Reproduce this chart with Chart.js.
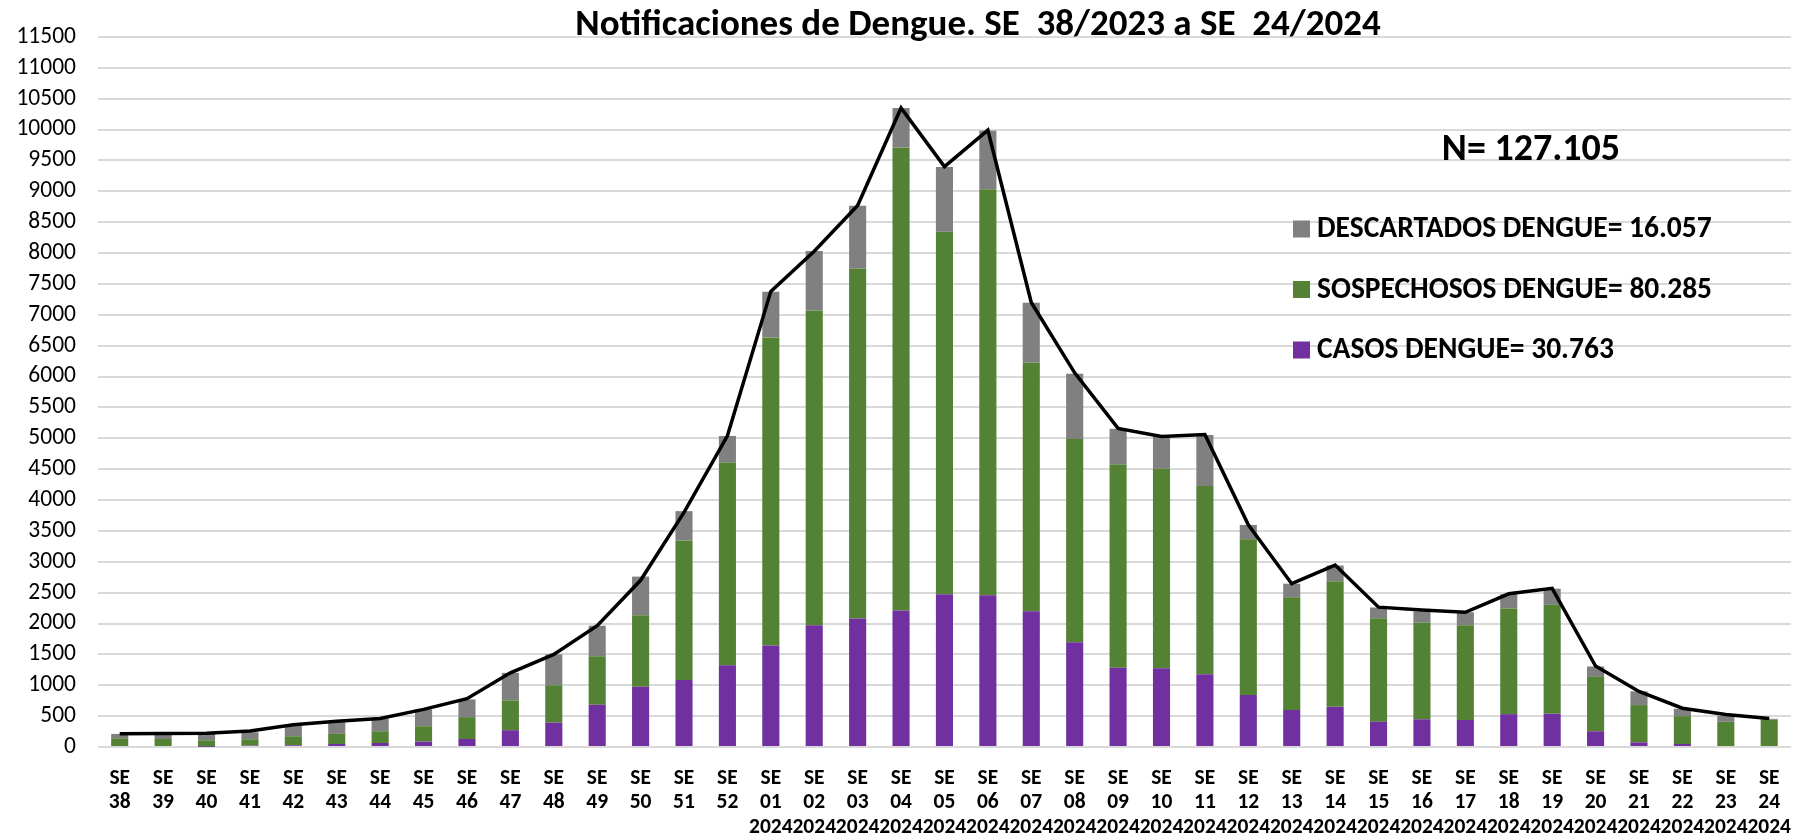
<!DOCTYPE html>
<html>
<head>
<meta charset="utf-8">
<script src="https://cdn.jsdelivr.net/npm/chart.js@4.4.1/dist/chart.umd.min.js"></script>
<style>
  html, body { margin: 0; padding: 0; background: #fff; }
  canvas { display: block; }
</style>
</head>
<body>
<canvas id="chart" width="1810" height="836"></canvas>
<script>
// semanas epidemiologicas
const weeks = ['38', '39', '40', '41', '42', '43', '44', '45', '46', '47', '48', '49', '50', '51', '52',
  '01', '02', '03', '04', '05', '06', '07', '08', '09', '10', '11', '12',
  '13', '14', '15', '16', '17', '18', '19', '20', '21', '22', '23', '24']
const years = ['', '', '', '', '', '', '', '', '', '', '', '', '', '', '',
  '2024', '2024', '2024', '2024', '2024', '2024', '2024', '2024', '2024', '2024', '2024', '2024',
  '2024', '2024', '2024', '2024', '2024', '2024', '2024', '2024', '2024', '2024', '2024', '2024']

const casos = [0, 0, 5, 22, 27, 49, 65, 87, 130, 272, 395, 685, 975, 1085, 1325,
  1643, 1972, 2080, 2209, 2473, 2457, 2198, 1697, 1282, 1277, 1180, 842,
  600, 650, 410, 449, 437, 532, 537, 255, 76, 49, 16, 0]
const sospechosos = [141, 130, 104, 103, 147, 163, 190, 250, 354, 483, 605, 785, 1160, 2260, 3282,
  4991, 5099, 5672, 7503, 5873, 6575, 4031, 3292, 3292, 3233, 3046, 2522,
  1825, 2035, 1677, 1567, 1534, 1711, 1766, 881, 603, 451, 392, 446]
const descartados = [71, 77, 103, 114, 174, 190, 202, 272, 288, 446, 500, 495, 625, 475, 431,
  740, 961, 1015, 637, 1047, 950, 966, 1056, 580, 520, 828, 233,
  220, 255, 172, 182, 211, 232, 261, 168, 223, 120, 97, 11]
const notificaciones = [215, 218, 222, 258, 359, 418, 462, 609, 783, 1201, 1500, 1965, 2700, 3800, 5040,
  7380, 8030, 8770, 10350, 9400, 9990, 7200, 6060, 5160, 5030, 5060, 3600,
  2645, 2946, 2265, 2220, 2182, 2481, 2570, 1312, 900, 628, 527, 462]

const legendLabels = ['DESCARTADOS DENGUE= 16.057', 'SOSPECHOSOS DENGUE= 80.285', 'CASOS DENGUE= 30.763']
const totalLabel = 'N= 127.105'
const title = 'Notificaciones de Dengue. SE  38/2023 a SE  24/2024'

const FONT = 'Carlito, Calibri, Lato, sans-serif'
const PURPLE = '#7030a0'
const GREEN = '#548235'
const GRAY = '#808080'

const labels = weeks.map((w, i) => years[i] ? ['SE', w, years[i]] : ['SE', w])

const overlay = {
  id: 'overlay',
  afterDraw(chart) {
    const ctx = chart.ctx
    ctx.save()
    ctx.fillStyle = '#000'
    ctx.textAlign = 'center'
    ctx.textBaseline = 'alphabetic'
    ctx.font = 'bold 37px ' + FONT
    ctx.fillText(title, 978, 35)

    ctx.font = 'bold 38px ' + FONT
    ctx.fillText(totalLabel, 1531, 160)

    const colors = [GRAY, GREEN, PURPLE]
    ctx.textAlign = 'left'
    ctx.textBaseline = 'middle'
    ctx.font = 'bold 29.5px ' + FONT
    legendLabels.forEach((txt, i) => {
      const y = 229 + i * 60.5
      ctx.fillStyle = colors[i]
      ctx.fillRect(1293, y - 8.5, 17, 17)
      ctx.fillStyle = '#000'
      ctx.fillText(txt, 1317, y + 1)
    })
    ctx.restore()
  }
}

new Chart(document.getElementById('chart'), {
  data: {
    labels: labels,
    datasets: [
      { type: 'line', label: 'Notificaciones', data: notificaciones, borderColor: '#000', borderWidth: 3.5,
        pointRadius: 0, tension: 0, fill: false, order: 0 },
      { type: 'bar', label: 'CASOS DENGUE', data: casos, backgroundColor: PURPLE, order: 1 },
      { type: 'bar', label: 'SOSPECHOSOS DENGUE', data: sospechosos, backgroundColor: GREEN, order: 1 },
      { type: 'bar', label: 'DESCARTADOS DENGUE', data: descartados, backgroundColor: GRAY, order: 1 }
    ]
  },
  options: {
    responsive: false,
    animation: false,
    devicePixelRatio: 1,
    layout: { padding: { top: 37, left: 0, right: 0, bottom: 0 } },
    datasets: { bar: { categoryPercentage: 1, barPercentage: 0.394 } },
    plugins: { legend: { display: false }, title: { display: false }, tooltip: { enabled: false } },
    scales: {
      x: {
        stacked: true,
        grid: { display: false, drawTicks: false },
        border: { display: false },
        ticks: { color: '#000', padding: 19, maxRotation: 0, autoSkip: false,
          font: { family: FONT, size: 21.5, weight: 'bold', lineHeight: 1.14 } },
        afterFit(scale) { scale.height = 89 }
      },
      y: {
        stacked: true,
        min: 0,
        max: 11500,
        grid: { color: '#d9d9d9', lineWidth: 2, drawTicks: false },
        border: { display: false },
        ticks: { stepSize: 500, maxTicksLimit: 40, autoSkip: false, color: '#000', padding: 22,
          font: { family: FONT, size: 23.5 },
          callback: (v) => String(v) },
        afterFit(scale) { scale.width = 98 }
      }
    }
  },
  plugins: [overlay]
})
</script>
</body>
</html>
